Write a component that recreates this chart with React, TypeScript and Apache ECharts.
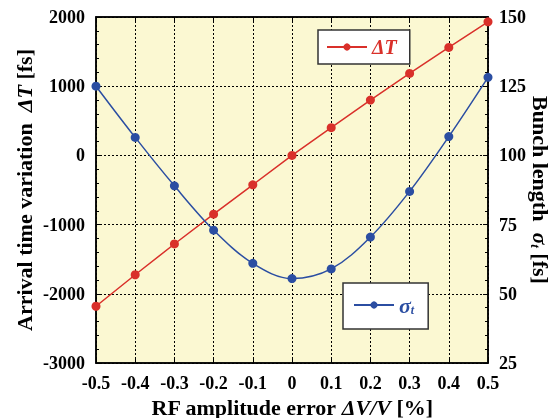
import React, { useEffect, useRef } from "react";
import * as echarts from "echarts";

const xValues = [-0.5, -0.4, -0.3, -0.2, -0.1, 0, 0.1, 0.2, 0.3, 0.4, 0.5];
const deltaT = [-2180, -1725, -1280, -850, -425, 0, 400, 800, 1185, 1560, 1930];
const sigmaT = [125, 106.5, 89, 73, 61, 55.5, 59, 70.5, 87, 106.8, 128.2];

const RED = "#D9302A";
const BLUE = "#2B4EA2";
const SERIF = "'Liberation Serif', 'DejaVu Serif', serif";

export default function App() {
  const ref = useRef<HTMLDivElement>(null);
  useEffect(() => {
    if (!ref.current) return;
    const chart = echarts.init(ref.current, undefined, { renderer: "svg" });
    const tickLabel = { color: "#000", fontFamily: SERIF, fontWeight: "bold" as const, fontSize: 18 };
    const titleRich = {
      b: { fontFamily: SERIF, fontWeight: "bold" as const, fontSize: 22, color: "#000" },
      i: { fontFamily: SERIF, fontWeight: "bold" as const, fontStyle: "italic" as const, fontSize: 22, color: "#000" },
      sub: { fontFamily: SERIF, fontWeight: "bold" as const, fontStyle: "italic" as const, fontSize: 13, color: "#000", padding: [9, 0, 0, 0] },
    };
    const axisLine = { show: true, onZero: false, lineStyle: { color: "#000", width: 1.5 } };
    const axisTick = { show: true, inside: true, length: 5, lineStyle: { color: "#000" } };
    chart.setOption({
      animation: false,
      grid: {
        left: 96,
        right: 70,
        top: 17,
        bottom: 55,
        outerBoundsMode: "none",
        containLabel: false,
        show: true,
        backgroundColor: "#FBF8D2",
        borderColor: "#000",
        borderWidth: 1.5,
      },
      legend: [
        {
          data: ["ΔT"],
          left: 318,
          top: 30,
          padding: [7, 13, 7, 8],
          backgroundColor: "#fff",
          borderColor: "#333",
          borderWidth: 1.5,
          itemWidth: 40,
          itemHeight: 9,
          itemGap: 6,
          formatter: () => "{dt|ΔT}",
          textStyle: {
            rich: {
              dt: { fontFamily: SERIF, fontWeight: "bold", fontStyle: "italic", fontSize: 20, color: RED },
            },
          },
        },
        {
          data: ["σt"],
          left: 343,
          top: 283,
          padding: [11, 14, 13, 10],
          backgroundColor: "#fff",
          borderColor: "#333",
          borderWidth: 1.5,
          itemWidth: 40,
          itemHeight: 9,
          itemGap: 6,
          formatter: () => "{sg|σ}{st|t}",
          textStyle: {
            rich: {
              sg: { fontFamily: SERIF, fontWeight: "bold", fontStyle: "italic", fontSize: 22, color: BLUE },
              st: { fontFamily: SERIF, fontWeight: "bold", fontStyle: "italic", fontSize: 12, color: BLUE, padding: [10, 0, 0, 0] },
            },
          },
        },
      ],
      xAxis: [
        {
          type: "value",
          min: -0.5,
          max: 0.5,
          interval: 0.1,
          position: "bottom",
          axisLine,
          axisTick,
          axisLabel: {
            ...tickLabel,
            margin: 11,
            formatter: (v: number) => (Math.abs(v) < 1e-9 ? "0" : v.toFixed(1)),
          },
          splitLine: { show: true, lineStyle: { color: "#000", type: [2, 2], width: 1 } },
          name: "{b|RF amplitude error }{i|ΔV/V}{b| [%]}",
          nameLocation: "middle",
          nameGap: 33,
          nameMoveOverlap: false,
          nameTextStyle: { rich: titleRich },
        },
        {
          type: "value",
          min: -0.5,
          max: 0.5,
          interval: 0.1,
          position: "top",
          axisLine,
          axisTick,
          axisLabel: { show: false },
          splitLine: { show: false },
        },
      ],
      yAxis: [
        {
          type: "value",
          min: -3000,
          max: 2000,
          interval: 1000,
          position: "left",
          axisLine,
          axisTick,
          minorTick: { show: true, splitNumber: 5, length: 3, lineStyle: { color: "#000" } },
          axisLabel: { ...tickLabel, margin: 11, formatter: (v: number) => String(v) },
          splitLine: { show: true, lineStyle: { color: "#000", type: [2, 2], width: 1 } },
          name: "{b|Arrival time variation  }{i|ΔT}{b| [fs]}",
          nameLocation: "middle",
          nameRotate: 90,
          nameGap: 61,
          nameMoveOverlap: false,
          nameTextStyle: { rich: titleRich },
        },
        {
          type: "value",
          min: 25,
          max: 150,
          interval: 25,
          position: "right",
          axisLine,
          axisTick,
          minorTick: { show: true, splitNumber: 5, length: 3, lineStyle: { color: "#000" } },
          axisLabel: { ...tickLabel, margin: 11, formatter: (v: number) => String(v) },
          splitLine: { show: false },
          name: "{b|Bunch length  }{i|σ}{sub|t}{b| [fs]}",
          nameLocation: "middle",
          nameRotate: -90,
          nameGap: 41,
          nameMoveOverlap: false,
          nameTextStyle: { rich: titleRich },
        },
      ],
      series: [
        {
          name: "ΔT",
          type: "line",
          xAxisIndex: 0,
          yAxisIndex: 0,
          data: xValues.map((x, i) => [x, deltaT[i]]),
          symbol: "circle",
          symbolSize: 9,
          itemStyle: { color: RED },
          lineStyle: { color: RED, width: 1.5 },
        },
        {
          name: "σt",
          type: "line",
          xAxisIndex: 0,
          yAxisIndex: 1,
          data: xValues.map((x, i) => [x, sigmaT[i]]),
          smooth: 0.35,
          symbol: "circle",
          symbolSize: 9,
          itemStyle: { color: BLUE },
          lineStyle: { color: BLUE, width: 1.5 },
        },
      ],
    });
    return () => chart.dispose();
  }, []);
  return <div ref={ref} style={{ width: 558, height: 418, position: "fixed", left: 0, top: 0 }} />;
}
